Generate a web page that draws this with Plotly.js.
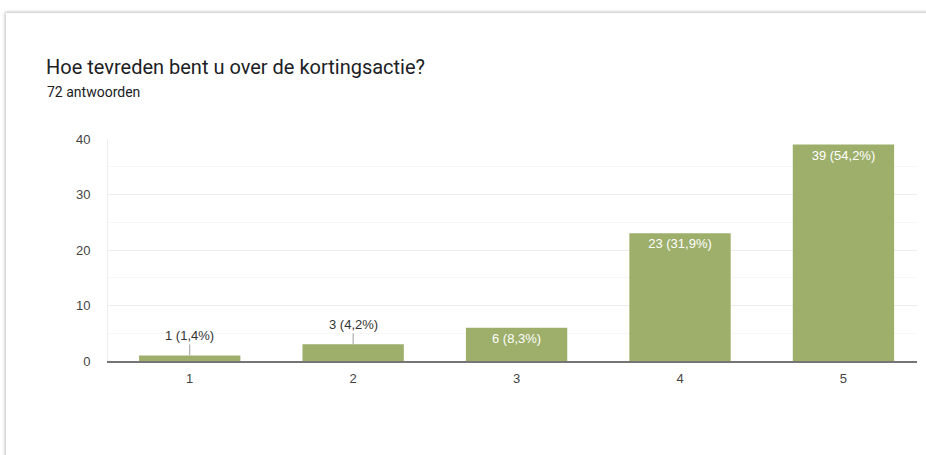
<!DOCTYPE html>
<html>
<head>
<meta charset="utf-8">
<script src="https://cdn.plot.ly/plotly-3.0.1.min.js"></script>
<style>
  body { margin: 0; background: #fff; overflow: hidden; }
  #card { position: absolute; left: 6px; top: 13px; width: 960px; height: 480px;
          background: #fff; box-shadow: 0 0 3px 1px rgba(0,0,0,0.25); }
  #chart { position: absolute; left: 0; top: 0; width: 926px; height: 455px; }
</style>
</head>
<body>
<div id="card"></div>
<div id="chart"></div>
<script>
// antwoorden per score
var scores = ['1', '2', '3', '4', '5'];
var counts = [1, 3, 6, 23, 39];
var pcts = ['1,4%', '4,2%', '8,3%', '31,9%', '54,2%'];
var yTicks = [0, 10, 20, 30, 40];

var labels = counts.map(function (c, i) { return c + ' (' + pcts[i] + ')'; });

// small bars get their label above with a leader line, the rest inside
var insideText = labels.map(function (l, i) { return counts[i] >= 5 ? l : ''; });
var notes = [];
counts.forEach(function (c, i) {
  if (c < 5) {
    notes.push({
      x: i, y: c, xref: 'x', yref: 'y',
      text: labels[i], showarrow: true, arrowhead: 0, arrowwidth: 1,
      arrowcolor: '#9e9e9e', ax: 0, ay: -20,
      font: {family: 'Liberation Sans, Arial', size: 13, color: '#333'}
    });
  }
});

notes.push({
  text: '72 antwoorden', xref: 'paper', yref: 'paper',
  x: (45 - 108) / 809, y: 1 + (139 - 92) / 222, xanchor: 'left', yanchor: 'middle',
  showarrow: false, font: {family: 'Roboto, sans-serif', size: 14, color: '#202124'}
});

var trace = {
  x: scores,
  y: counts,
  type: 'bar',
  marker: {color: '#9daf6b'},
  text: insideText,
  textposition: 'inside',
  insidetextanchor: 'end',
  constraintext: 'none',
  textfont: {family: 'Liberation Sans, Arial', size: 13, color: '#ffffff'},
  hoverinfo: 'none'
};

var layout = {
  width: 926,
  height: 455,
  paper_bgcolor: 'rgba(0,0,0,0)',
  plot_bgcolor: 'rgba(0,0,0,0)',
  showlegend: false,
  bargap: 0.38,
  margin: {l: 108, r: 9, t: 139, b: 94, pad: 0},
  title: {
    text: 'Hoe tevreden bent u over de kortingsactie?',
    xref: 'container', yref: 'container',
    x: 46 / 926, y: 1 - 67 / 455, xanchor: 'left', yanchor: 'middle',
    font: {family: 'Roboto, sans-serif', size: 20, color: '#202124'}
  },
  xaxis: {
    type: 'category',
    range: [-0.5, 4.45],
    showline: true, linecolor: '#757575', linewidth: 1.5,
    showgrid: false, ticks: '', ticklabelstandoff: 5,
    tickfont: {family: 'Liberation Sans, Arial', size: 13, color: '#444'},
    fixedrange: true
  },
  yaxis: {
    range: [0, 40],
    tickvals: yTicks,
    showgrid: true, gridcolor: '#ededed', gridwidth: 1,
    minor: {dtick: 5, showgrid: true, gridcolor: '#f7f7f7'},
    zeroline: false,
    showline: true, linecolor: '#ededed', linewidth: 1,
    ticks: '', ticklabelstandoff: 14,
    tickfont: {family: 'Liberation Sans, Arial', size: 13, color: '#444'},
    fixedrange: true
  },
  annotations: notes
};

Plotly.newPlot('chart', [trace], layout, {displayModeBar: false, staticPlot: true});
</script>
</body>
</html>
